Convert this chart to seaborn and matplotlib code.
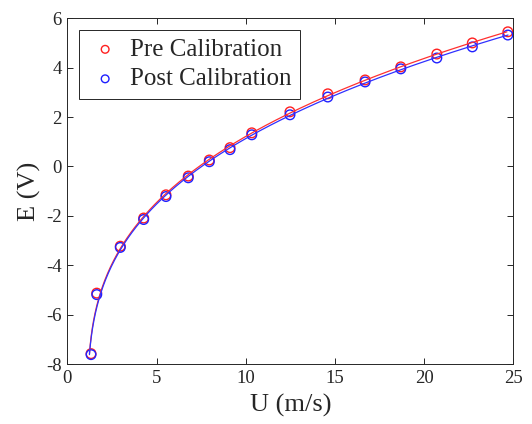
import matplotlib
matplotlib.use('Agg')
import matplotlib.pyplot as plt
import seaborn as sns
import numpy as np
import pandas as pd

# velocidade (m/s) e tensao (V)
u = [1.33, 1.65, 2.97, 4.28, 5.53, 6.78, 7.96, 9.12, 10.34, 12.48, 14.6, 16.69, 18.69, 20.71, 22.7, 24.69]
e_pre = [-7.58, -5.13, -3.23, -2.09, -1.15, -0.39, 0.26, 0.76, 1.36, 2.21, 2.94, 3.50, 4.03, 4.55, 5.00, 5.45]
e_post = [-7.62, -5.19, -3.28, -2.15, -1.22, -0.46, 0.19, 0.68, 1.28, 2.09, 2.81, 3.42, 3.95, 4.39, 4.84, 5.32]

sns.set_style('ticks')
plt.rcParams['font.family'] = ['Liberation Serif', 'DejaVu Serif']
plt.rcParams['axes.unicode_minus'] = False

df = pd.DataFrame({'U': u, 'Pre': e_pre, 'Post': e_post})

# curva de calibracao: U = polinomio de 3a ordem em E
curvas = {}
for col in ['Pre', 'Post']:
    c = np.polyfit(df[col], df['U'], 3)
    ee = np.linspace(df[col].min(), df[col].max(), 400)
    curvas[col] = pd.DataFrame({'E': ee, 'U': np.polyval(c, ee)})

fig = plt.figure(figsize=(5.32, 4.24), dpi=100)
ax = fig.add_axes([0.1265, 0.1415, 0.8385, 0.8155])

sns.lineplot(x='U', y='E', data=curvas['Pre'], sort=False, color='#ff3030', lw=0.9, ax=ax, legend=False)
sns.lineplot(x='U', y='E', data=curvas['Post'], sort=False, color='#3030ff', lw=0.9, ax=ax, legend=False)
sns.scatterplot(x='U', y='Pre', data=df, marker='o', s=48, facecolors='none',
                edgecolor='#ff2020', linewidth=1.0, ax=ax, label='Pre Calibration')
sns.scatterplot(x='U', y='Post', data=df, marker='o', s=48, facecolors='none',
                edgecolor='#2020ff', linewidth=1.0, ax=ax, label='Post Calibration')

ax.set_xlim(0, 25)
ax.set_ylim(-8, 6)
ax.set_xticks([0, 5, 10, 15, 20, 25])
ax.set_yticks(range(-8, 7, 2))
ax.set_xlabel('U (m/s)', fontsize=19, labelpad=5)
ax.set_ylabel('E (V)', fontsize=19, labelpad=4)
ax.tick_params(direction='in', top=True, right=True, length=4, width=0.7,
               labelsize=13.5, colors='#262626', pad=4)
for s in ax.spines.values():
    s.set_color('#262626')
    s.set_linewidth(0.7)

leg = ax.legend(loc='upper left', bbox_to_anchor=(0.026, 0.967), borderaxespad=0,
                fontsize=18, frameon=True, fancybox=False, edgecolor='#262626',
                framealpha=1, markerscale=0.8, handletextpad=0.3, borderpad=0.35,
                labelspacing=0.28, handlelength=1.4)
leg.get_frame().set_linewidth(0.7)

fig.savefig('out.png', dpi=100)
